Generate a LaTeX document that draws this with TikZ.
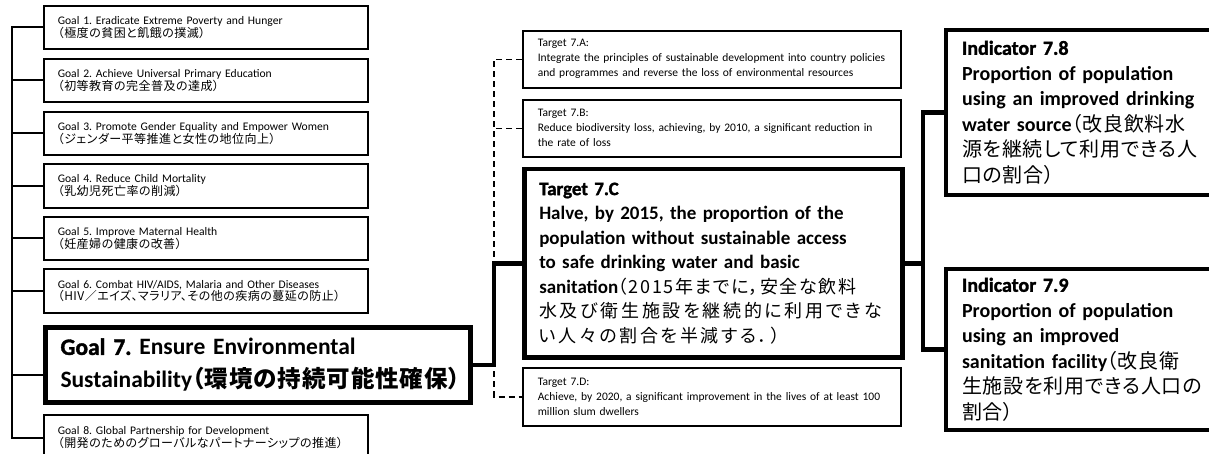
\documentclass[tikz,border=0pt]{standalone}
\usepackage{fontspec}
\setmainfont{Carlito}
\newfontfamily\jp{Noto Sans CJK JP}[RawFeature=+palt]
\newfontfamily\jpg{Noto Sans CJK JP}[RawFeature=+palt, LetterSpace=4]
\newfontfamily\jps{Noto Sans CJK JP}[RawFeature=+palt, LetterSpace=4]
\newfontfamily\jpc{Noto Sans CJK JP}[RawFeature=+palt, LetterSpace=15]
\newfontfamily\jpm{Noto Sans CJK JP}[RawFeature=+palt, LetterSpace=9]
\newfontfamily\jpi{Noto Sans CJK JP}[RawFeature=+palt, LetterSpace=4]
\newcommand\jpszC{\fontsize{18}{24.5}\selectfont\mdseries}
\newcommand\jpszI{\mdseries}
\newcommand\jpszG{\fontsize{12}{12}\selectfont\jps}
\newcommand\heavy{\addfontfeature{FakeBold=1.5}}
\usetikzlibrary{calc}
\frenchspacing
\tikzset{
  goalbox/.style={draw, line width=1.6pt, anchor=north west, minimum width=324pt, minimum height=43pt,
    inner xsep=14pt, inner ysep=0pt, text width=296pt, align=left, font=\fontsize{11.6}{12}\selectfont},
  bigbox/.style={draw, line width=5pt, anchor=north west, minimum width=425pt, minimum height=75pt,
    inner xsep=15pt, inner ysep=0pt, text width=395pt, align=left, font=\fontsize{23.5}{33}\selectfont\bfseries},
  tgtbox/.style={draw, line width=1.6pt, anchor=north west, minimum width=378pt, minimum height=57pt,
    inner xsep=15pt, inner ysep=0pt, text width=348pt, align=left, font=\fontsize{11.5}{15}\selectfont},
  mainbox/.style={draw, line width=4.5pt, anchor=north west, minimum width=378pt, minimum height=188pt,
    inner xsep=15pt, inner ysep=0pt, text width=348pt, align=left, font=\fontsize{19}{24.5}\selectfont\bfseries},
  indbox/.style={draw, line width=4pt, anchor=north west, minimum width=266pt, minimum height=165pt,
    inner xsep=16pt, inner ysep=0pt, text width=234pt, align=left, font=\fontsize{20}{25.5}\selectfont\bfseries},
  tree/.style={line width=1.8pt},
  conn/.style={line width=4.5pt},
  dashconn/.style={line width=1.5pt, dash pattern=on 6pt off 4pt},
}
\begin{document}
\begin{tikzpicture}[x=1pt,y=-1pt]
\useasboundingbox (0,0) rectangle (1209,454);
\fill[white] (0,0) rectangle (1209,454);

% Goals
\node[goalbox] (G1) at (43,5) {\mbox{Goal 1. Eradicate Extreme Poverty and Hunger}\\\mbox{\jpszG（極度の貧困と飢餓の撲滅）}};
\node[goalbox] (G2) at (43,58) {\mbox{Goal 2. Achieve Universal Primary Education}\\\mbox{\jpszG（初等教育の完全普及の達成）}};
\node[goalbox] (G3) at (43,111) {\mbox{Goal 3. Promote Gender Equality and Empower Women}\\\mbox{\jpszG（ジェンダー平等推進と女性の地位向上）}};
\node[goalbox, minimum height=44pt] (G4) at (43,163) {\mbox{Goal 4. Reduce Child Mortality}\\\mbox{\jpszG（乳幼児死亡率の削減）}};
\node[goalbox] (G5) at (43,216) {\mbox{Goal 5. Improve Maternal Health}\\\mbox{\jpszG（妊産婦の健康の改善）}};
\node[goalbox, minimum height=44pt] (G6) at (43,268) {\mbox{Goal 6. Combat HIV/AIDS, Malaria and Other Diseases}\\\mbox{\jpszG（HIV／エイズ、マラリア、その他の疾病の蔓延の防止）}};
\node[bigbox] (G7) at (43,325) {\mbox{{\heavy Goal 7.} Ensure Environmental}\\\mbox{Sustainability{\jpg（環境の持続可能性確保）}}};
\node[goalbox, minimum height=46pt] (G8) at (43,414) {\mbox{Goal 8. Global Partnership for Development}\\\mbox{\jpszG（開発のためのグローバルなパートナーシップの推進）}};

% Targets
\node[tgtbox] (T7A) at (522,30) {\mbox{Target 7.A:}\\\mbox{Integrate the principles of sustainable development into country policies}\\\mbox{and programmes and reverse the loss of environmental resources}};
\node[tgtbox] (T7B) at (522,99) {\mbox{Target 7.B:}\\\mbox{Reduce biodiversity loss, achieving, by 2010, a significant reduction in}\\\mbox{the rate of loss}};
\node[mainbox] (T7C) at (522,167) {\mbox{\heavy Target 7.C}\\\mbox{Halve, by 2015, the proportion of the}\\\mbox{population without sustainable access}\\\mbox{to safe drinking water and basic}\\\mbox{sanitation{\jpszC\jpm（2015年までに，安全な飲料}}\\\mbox{\jpszC\jpc 水及び衛生施設を継続的に利用できな}\\\mbox{\jpszC\jpc い人々の割合を半減する．）}};
\node[tgtbox, minimum height=58pt] (T7D) at (522,367) {\mbox{Target 7.D:}\\\mbox{Achieve, by 2020, a significant improvement in the lives of at least 100}\\\mbox{million slum dwellers}};

% Indicators
\node[indbox] (I78) at (944,28) {\mbox{\heavy Indicator 7.8}\\\mbox{Proportion of population}\\\mbox{using an improved drinking}\\\mbox{water source{\jpszI\jpi（改良飲料水}}\\\mbox{\jpszI\jpi 源を継続して利用できる人}\\\mbox{\jpszI\jpi 口の割合）}};
\node[indbox, minimum height=161pt] (I79) at (944,267) {\mbox{\heavy Indicator 7.9}\\\mbox{Proportion of population}\\\mbox{using an improved}\\\mbox{sanitation facility{\jpszI\jpi（改良衛}}\\\mbox{\jpszI\jpi 生施設を利用できる人口の}\\\mbox{\jpszI\jpi 割合）}};

% Left tree
\coordinate (tr) at (12,0);
\coordinate (g7in) at ($(G7.west)+(0,10)$);
\draw[tree] (G1.west) -| (tr |- G8.west) -- (G8.west);
\draw[tree] (G2.west) -- (G2.west -| tr);
\draw[tree] (G3.west) -- (G3.west -| tr);
\draw[tree] (G4.west) -- (G4.west -| tr);
\draw[tree] (G5.west) -- (G5.west -| tr);
\draw[tree] (G6.west) -- (G6.west -| tr);
\draw[tree] (g7in) -- (g7in -| tr);

% Middle
\coordinate (mx) at (494,0);
\draw[dashconn] (T7A.west) -| (mx |- T7D.west) -- (T7D.west);
\draw[dashconn] (T7B.west) -- (T7B.west -| mx);
\draw[conn] (G7.east) -| (mx |- T7C.west) -- (T7C.west);

% Right
\coordinate (rx) at (923,0);
\draw[conn] (T7C.east) -- (T7C.east -| rx);
\draw[conn] (I78.west) -| (rx |- I79.west) -- (I79.west);
\end{tikzpicture}
\end{document}
